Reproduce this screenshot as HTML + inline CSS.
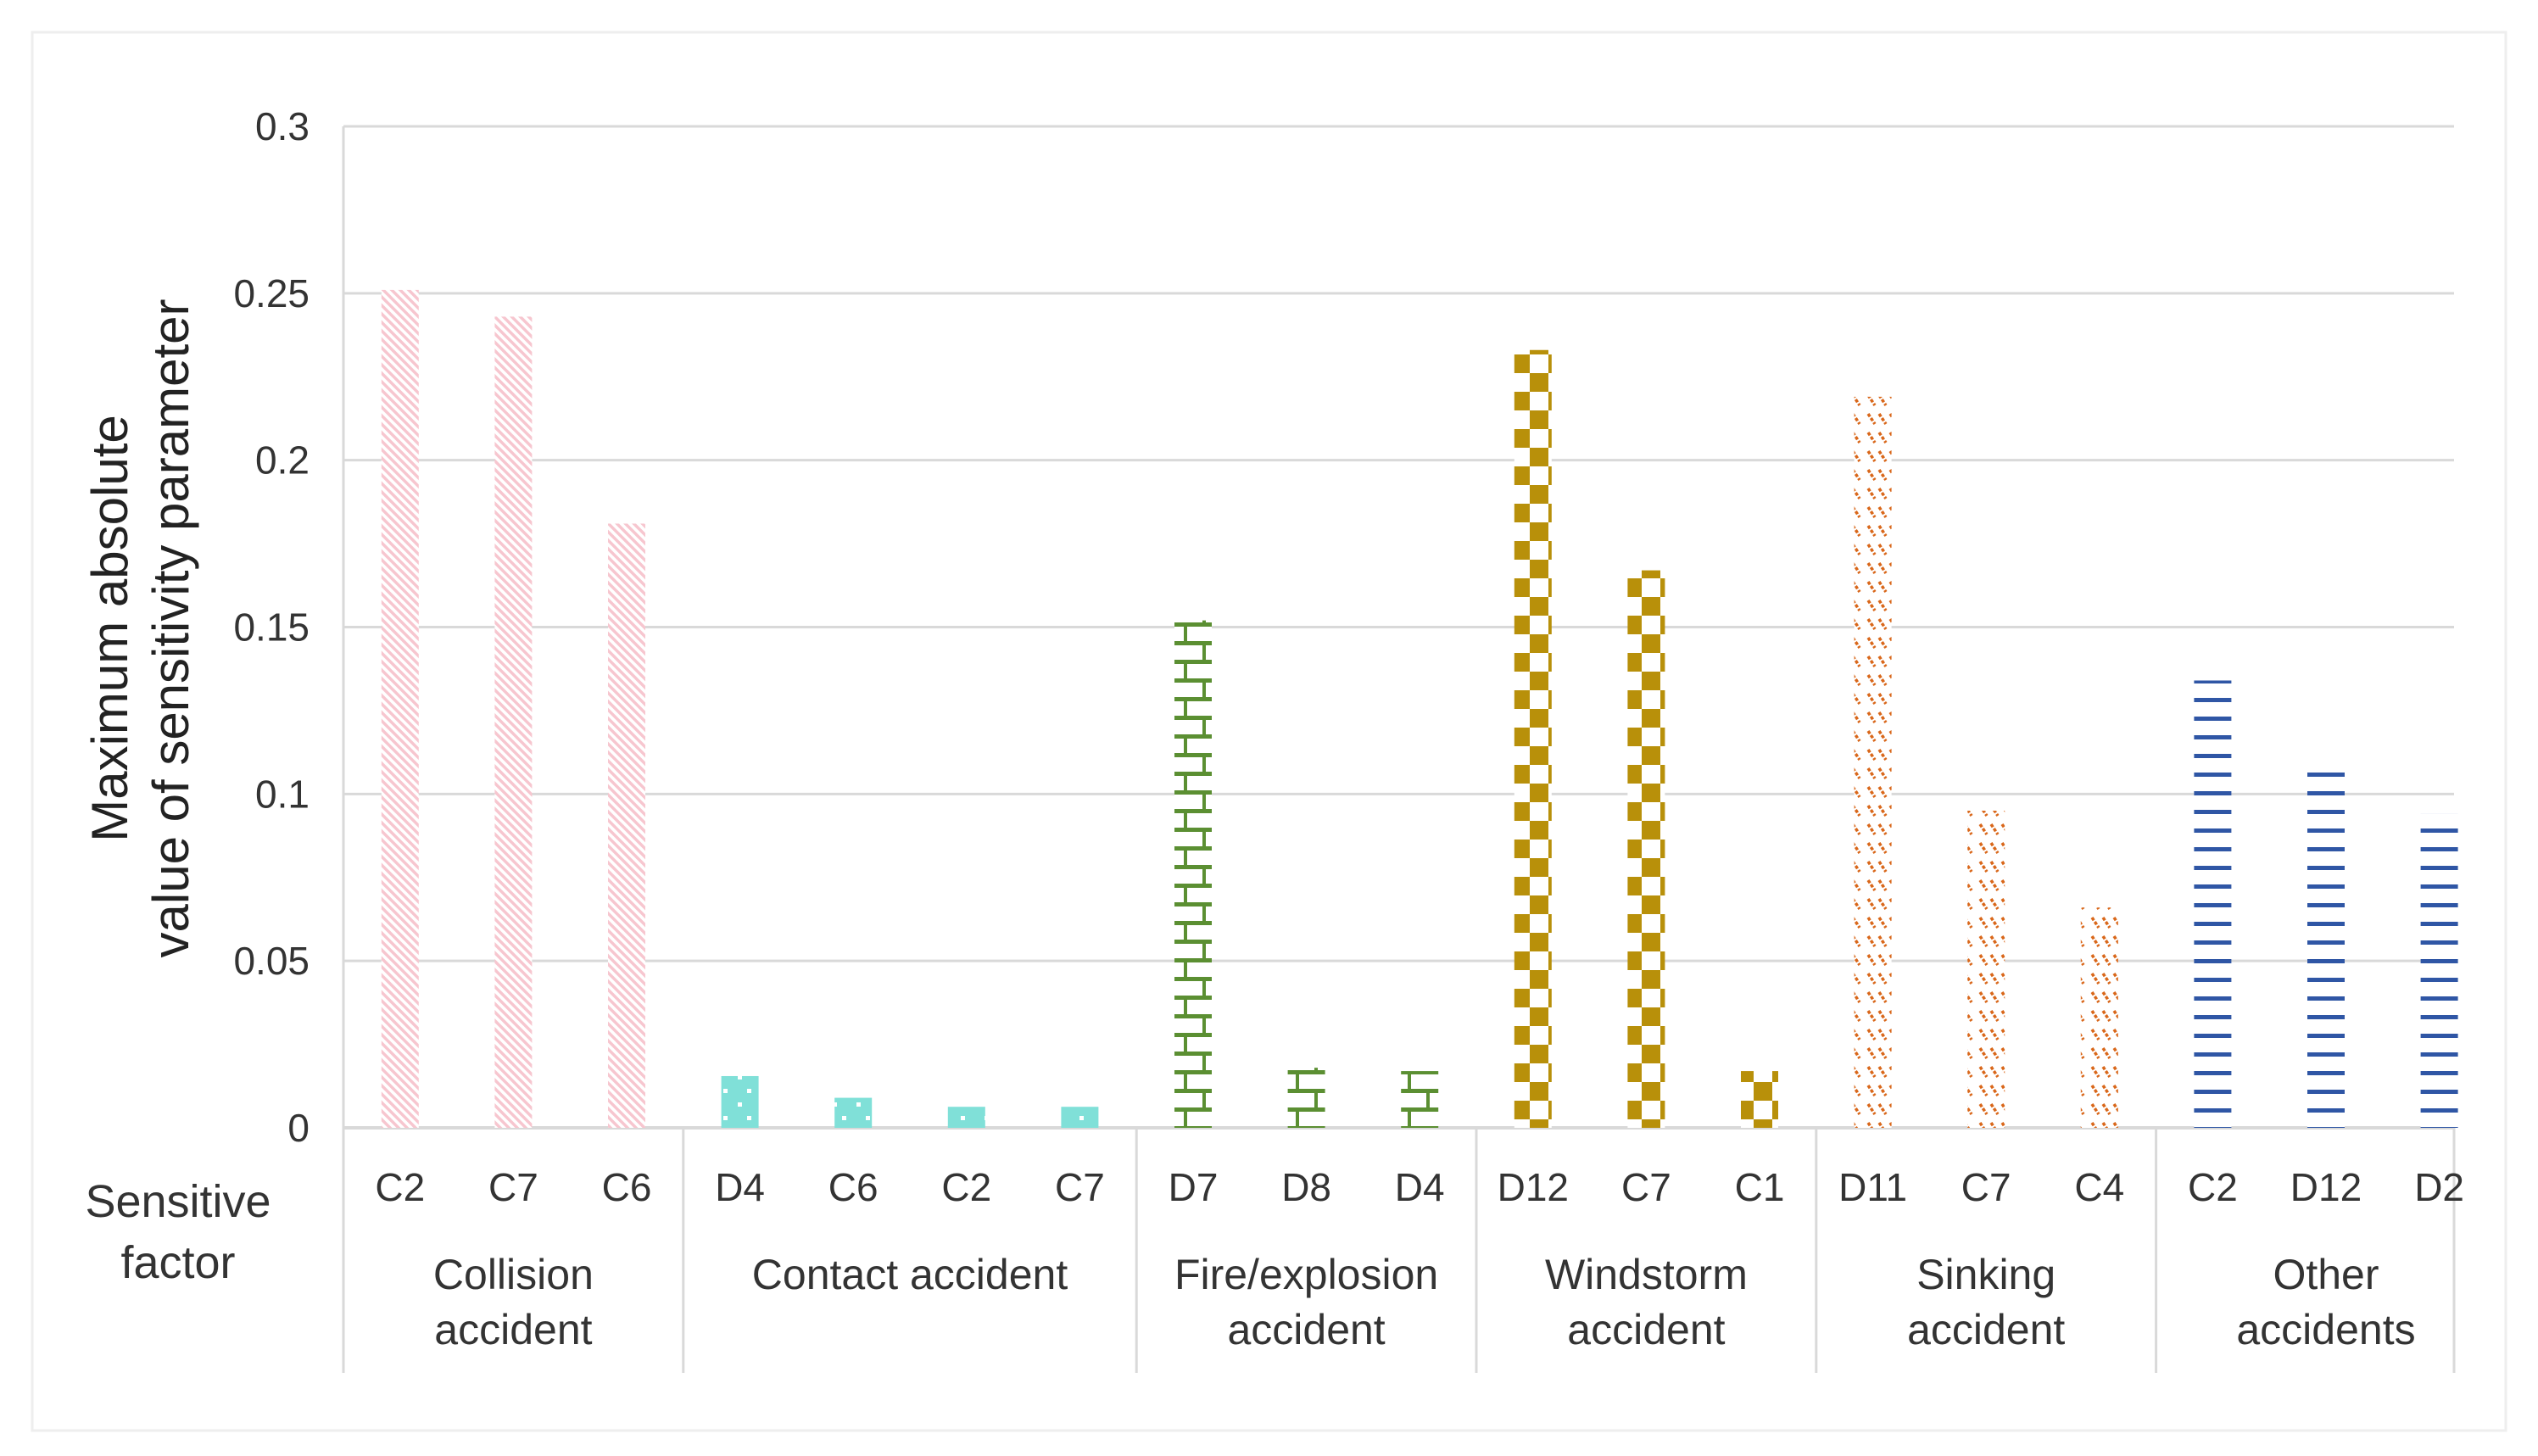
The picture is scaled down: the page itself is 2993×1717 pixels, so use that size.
<!DOCTYPE html>
<html><head><meta charset="utf-8"><style>
html,body{margin:0;padding:0;background:#fff;}
svg{display:block;font-family:"Liberation Sans",sans-serif;}
</style></head><body>
<svg id="chart" width="2993" height="1717" viewBox="0 0 2993 1717" xmlns="http://www.w3.org/2000/svg">
<defs>
<pattern id="p0" patternUnits="userSpaceOnUse" width="10" height="10"><rect width="10" height="10" fill="#fff"/><path d="M-2,-2 L12,12 M-2,8 L2,12 M8,-2 L12,2" stroke="#f7c6cf" stroke-width="3.5"/></pattern>
<pattern id="p1" patternUnits="userSpaceOnUse" width="28" height="32"><rect width="28" height="32" fill="#80e0d8"/><rect x="13" y="4" width="5" height="5" fill="#fff"/><rect x="2" y="20" width="5" height="5" fill="#fff"/></pattern>
<pattern id="p2" patternUnits="userSpaceOnUse" width="44" height="44"><rect width="44" height="44" fill="#fff"/><rect x="0" y="8" width="44" height="5" fill="#5b8f32"/><rect x="0" y="30" width="44" height="5" fill="#5b8f32"/><rect x="10" y="13" width="4" height="17" fill="#5b8f32"/><rect x="32" y="35" width="4" height="17" fill="#5b8f32"/><rect x="32" y="-9" width="4" height="17" fill="#5b8f32"/></pattern>
<pattern id="p3" patternUnits="userSpaceOnUse" width="44" height="44"><rect width="44" height="44" fill="#fff"/><rect x="0" y="0" width="22" height="22" fill="#b8900a"/><rect x="22" y="22" width="22" height="22" fill="#b8900a"/></pattern>
<pattern id="p4" patternUnits="userSpaceOnUse" width="44" height="22"><rect width="44" height="22" fill="#fff"/><path d="M3,4 L11,16 M16,4 L24,16 M29,4 L37,16" stroke="#d9671a" stroke-width="3.5" stroke-dasharray="4 2"/></pattern>
<pattern id="p5" patternUnits="userSpaceOnUse" width="10" height="22"><rect width="10" height="22" fill="#fff"/><rect y="9" width="10" height="5" fill="#2f56a5"/></pattern>
</defs>
<rect x="38" y="38" width="2917" height="1649" fill="#fff" stroke="#eeeeee" stroke-width="3"/>
<g id="grid"></g>
<g id="bars"></g>
<g id="labels"></g>
<text transform="translate(150,741) rotate(-90)" text-anchor="middle" font-size="60" fill="#222">Maximum absolute</text>
<text transform="translate(222,741) rotate(-90)" text-anchor="middle" font-size="60" fill="#222">value of sensitivity parameter</text>
<text x="210" y="1435" text-anchor="middle" font-size="54" fill="#333">Sensitive</text>
<text x="210" y="1507" text-anchor="middle" font-size="54" fill="#333">factor</text>
</svg>
<script>
const groups = ["Collision|accident","Contact accident","Fire/explosion|accident","Windstorm|accident","Sinking|accident","Other|accidents"];
const groupSizes = [3,4,3,3,3,3];
const factors = ["C2","C7","C6","D4","C6","C2","C7","D7","D8","D4","D12","C7","C1","D11","C7","C4","C2","D12","D2"];
const values = [0.251,0.243,0.181,0.0155,0.009,0.0063,0.0063,0.152,0.018,0.017,0.233,0.167,0.017,0.219,0.095,0.066,0.134,0.109,0.094];
const yTicks = [0,0.05,0.1,0.15,0.2,0.25,0.3];
const yTickLabels = ["0","0.05","0.1","0.15","0.2","0.25","0.3"];

const NS="http://www.w3.org/2000/svg";
const L=405,R=2894,T=149,B=1330,yMax=0.3;
const n=factors.length, cw=133.6, bw=44;
const y=v=>B-(v/yMax)*(B-T);
const x=i=>L+cw*(i+0.5);
function mk(tag,attrs,parent){const e=document.createElementNS(NS,tag);for(const k in attrs)e.setAttribute(k,attrs[k]);parent.appendChild(e);return e;}
const grid=document.getElementById('grid'),bars=document.getElementById('bars'),labels=document.getElementById('labels');
yTicks.forEach((t,i)=>{
  const g=mk('line',{x1:L,x2:R,y1:y(t),y2:y(t),stroke:'#d9d9d9','stroke-width':3},grid);
  
  
  const tx=mk('text',{x:L-40,y:y(t)+16,'text-anchor':'end','font-size':46,fill:'#333'},labels);
  tx.textContent=yTickLabels[i];
  
  
});
const ax=mk('line',{x1:L,x2:L,y1:T,y2:B,stroke:'#d9d9d9','stroke-width':3},grid);


let gi=0,start=0;
const bounds=[0];
groupSizes.forEach(s=>{start+=s;bounds.push(start);});
const bx=b=>Math.min(R,L+cw*b);
bounds.forEach(b=>{
  const sx=bx(b);
  const s=mk('line',{x1:sx,x2:sx,y1:B,y2:1619,stroke:'#d9d9d9','stroke-width':3},grid);
  
  
});
factors.forEach((f,i)=>{
  while(i>=bounds[gi+1])gi++;
  const r=mk('rect',{x:x(i)-bw/2,y:y(values[i]),width:bw,height:B-y(values[i]),fill:'url(#p'+gi+')'},bars);
  
  
  const t=mk('text',{x:x(i),y:1416,'text-anchor':'middle','font-size':46,fill:'#333'},labels);
  t.textContent=f;
  
  
});
groups.forEach((g,k)=>{
  const cx=L+cw*(bounds[k]+bounds[k+1])/2;
  const lines=g.split('|');
  lines.forEach((ln,j)=>{
    const t=mk('text',{x:cx,y:1520+j*65,'text-anchor':'middle','font-size':50,fill:'#333'},labels);
    t.textContent=ln;
    
    
  });
});
const bl=mk('line',{x1:L,x2:R,y1:B,y2:B,stroke:'#d9d9d9','stroke-width':4},grid);


</script>
</body></html>
